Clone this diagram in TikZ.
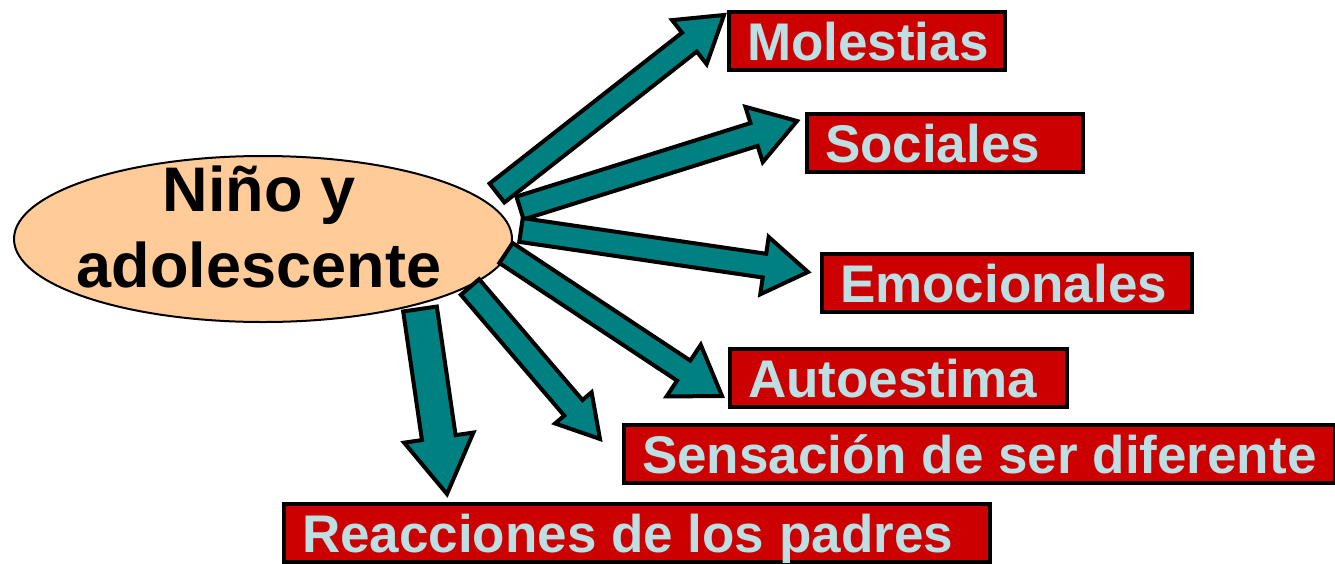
\documentclass[tikz,border=0pt]{standalone}
\usepackage{fontspec}
\setmainfont{Liberation Sans}
\usetikzlibrary{calc, shapes.geometric}
\definecolor{arrowteal}{HTML}{008080}
\definecolor{boxred}{HTML}{CC0000}
\definecolor{boxtext}{HTML}{BBDFE3}
\definecolor{kidfill}{HTML}{FFCC99}
\tikzset{
topic/.style={draw=black, line width=4pt, fill=boxred, text=boxtext, anchor=north west, inner xsep=18pt, inner ysep=0pt, minimum height=58pt, text height=38pt, text depth=0pt, font=\fontsize{53}{60}\selectfont\bfseries}, kid/.style={ellipse, draw=black, line width=2pt, fill=kidfill, minimum width=498pt, minimum height=166pt, inner sep=0}, kidtext/.style={align=center, text depth=24pt, inner sep=0, font=\fontsize{63}{76}\selectfont\bfseries}, fat/.style={fill=arrowteal, draw=black, line width=4pt, line join=miter}}
\newcommand\fatarrow[5]{%
  \coordinate (hb) at ($(#2)!#5pt!(#1)$);
  \filldraw[fat] ($(#1)!#3pt!90:(#2)$) -- ($(hb)!#3pt!90:(#2)$) -- ($(hb)!#4pt!90:(#2)$) -- (#2)
    -- ($(hb)!#4pt!-90:(#2)$) -- ($(hb)!#3pt!-90:(#2)$) -- ($(#1)!#3pt!-90:(#2)$) -- cycle;}

\begin{document}
\begin{tikzpicture}[x=1pt, y=-1pt]
\useasboundingbox (0,0) rectangle (1335,563);
\node [kid] (kid) at (263,239) {};
\node [kidtext] (kid-label) at ([xshift=-4pt]kid.center) {Niño y\\adolescente};

% arrow ends
\coordinate (s-mol) at (497,193); \coordinate (t-mol) at (724,15);
\coordinate (s-soc) at (520,208); \coordinate (t-soc) at (797,121);
\coordinate (s-emo) at (521,230); \coordinate (t-emo) at (808,272);
\coordinate (s-aut) at (506,253); \coordinate (t-aut) at (722,396);
\coordinate (s-sen) at (470,287); \coordinate (t-sen) at (600,439);
\coordinate (s-rea) at (420,309); \coordinate (t-rea) at (447,494);
\foreach \k/\w/\hw/\hl in {mol/12/28/44, soc/12/29/45, emo/12/29/44, aut/12/31/46, sen/12/24/41, rea/17/35/57}{
      \fatarrow{s-\k}{t-\k}{\w}{\hw}{\hl}
}

\node [topic] (mol) at (727,10) {\makebox[240pt][l]{Molestias}};
\node [topic] (soc) at (805,112) {\makebox[240pt][l]{Sociales}};
\node [topic] (emo) at (820,252) {\makebox[334pt][l]{Emocionales}};
\node [topic] (aut) at (728,347) {\makebox[301pt][l]{Autoestima}};
\node [topic] (sen) at (622,423) {\makebox[675pt][l]{Sensación de ser diferente}};
\node [topic] (rea) at (282,502) {\makebox[670pt][l]{Reacciones de los padres}};
\end{tikzpicture}
\end{document}
